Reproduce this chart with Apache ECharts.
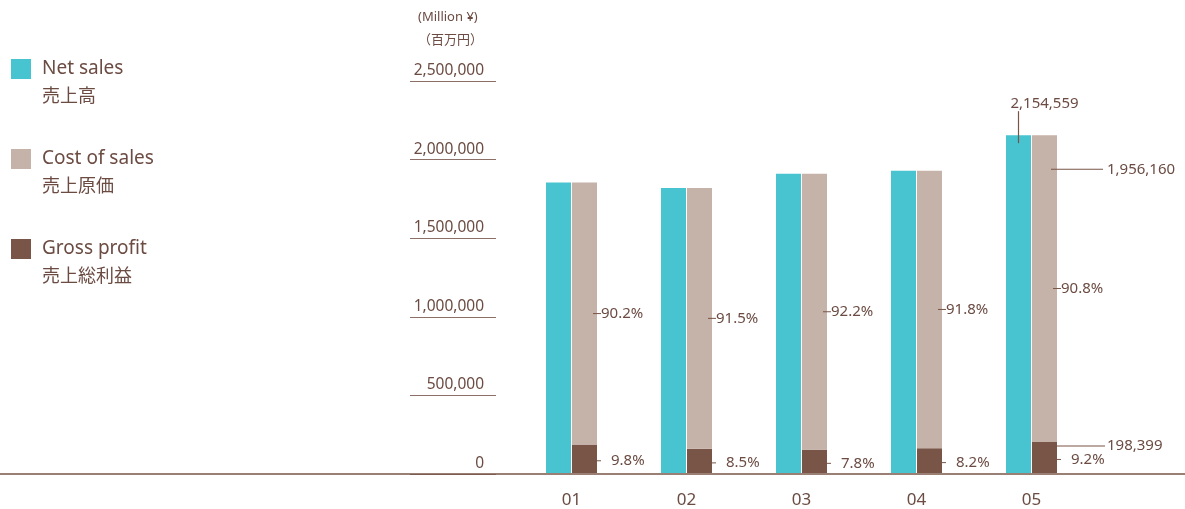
<!DOCTYPE html>
<html>
<head>
<meta charset="utf-8">
<script src="https://cdn.jsdelivr.net/npm/echarts@6/dist/echarts.min.js"></script>
<style>
html, body { margin: 0; padding: 0; background: #fff; }
#chart { width: 1185px; height: 509px; }
</style>
</head>
<body>
<div id="chart"></div>
<script>
const categories = ['01', '02', '03', '04', '05'];
const netSales = [1852000, 1818000, 1908000, 1928000, 2154559];
const costOfSales = [1670500, 1663500, 1759200, 1769900, 1956160];
const grossProfit = [181500, 154500, 148800, 158100, 198399];
const costRatio = ['90.2%', '91.5%', '92.2%', '91.8%', '90.8%'];
const profitRatio = ['9.8%', '8.5%', '7.8%', '8.2%', '9.2%'];
const seriesNames = ['Net sales', 'Cost of sales', 'Gross profit'];
const seriesNamesJa = ['売上高', '売上原価', '売上総利益'];
const yMax = 2500000;
const yStep = 500000;

const FONT = '"Noto Sans", "Noto Sans CJK JP", sans-serif';
const TEXT = '#6b4b42';
const BROWN = '#785547';
const TEAL = '#48c3d0';
const BEIGE = '#c5b2a8';

const fmt = v => v.toLocaleString('en-US');
const last = netSales.length - 1;

const dashRich = {
  d: { width: 8, height: 1, backgroundColor: BROWN },
  t: { color: TEXT, fontSize: 15, fontFamily: FONT, lineHeight: 16 },
  g: { color: TEXT, fontSize: 15, fontFamily: FONT, lineHeight: 16, padding: [0, 0, 0, 10] }
};

const chart = echarts.init(document.getElementById('chart'));

const option = {
  animation: false,
  textStyle: { fontFamily: FONT, color: TEXT },
  graphic: [{
    type: 'text',
    right: 702,
    top: 6,
    style: {
      text: '(Million ¥)\n（百万円）',
      align: 'right',
      fill: TEXT,
      font: '13px ' + FONT,
      lineHeight: 23
    }
  }],
  legend: {
    orient: 'vertical',
    left: 11,
    top: 36,
    padding: 0,
    itemWidth: 20,
    itemHeight: 20,
    itemGap: 20,
    icon: 'rect',
    selectedMode: false,
    data: seriesNames,
    formatter: name => '{sp| }\n{en|' + name + '}\n{ja|' + seriesNamesJa[seriesNames.indexOf(name)] + '}',
    textStyle: {
      padding: [0, 0, 0, 6],
      rich: {
        sp: { lineHeight: 34, fontSize: 10 },
        en: { fontSize: 19, lineHeight: 22, color: TEXT, fontFamily: FONT },
        ja: { fontSize: 18, lineHeight: 34, color: TEXT, fontFamily: FONT }
      }
    }
  },
  grid: [
    { left: 514, right: 96, top: 81, bottom: 35 },
    { left: 410, right: 689, top: 81, bottom: 35 },
    { left: 0, right: 0, top: 81, bottom: 35 }
  ],
  xAxis: [
    {
      type: 'category',
      gridIndex: 0,
      data: categories,
      axisLine: { show: false },
      axisTick: { show: false },
      axisLabel: { margin: 19, fontSize: 17, color: TEXT, fontFamily: FONT }
    },
    { type: 'value', gridIndex: 1, show: false },
    {
      type: 'value',
      gridIndex: 2,
      axisLine: { show: true, lineStyle: { color: BROWN, width: 1.5 } },
      axisTick: { show: false },
      axisLabel: { show: false },
      splitLine: { show: false }
    }
  ],
  yAxis: [
    { type: 'value', gridIndex: 0, min: 0, max: yMax, interval: yStep, show: false },
    {
      type: 'value',
      gridIndex: 1,
      position: 'right',
      min: 0,
      max: yMax,
      interval: yStep,
      axisLine: { show: false },
      axisTick: { show: false },
      axisLabel: {
        inside: true,
        margin: 12,
        verticalAlign: 'bottom',
        fontSize: 15.5,
        lineHeight: 15,
        padding: [0, 0, 3, 0],
        color: TEXT,
        fontFamily: FONT,
        formatter: v => fmt(v)
      },
      splitLine: { show: true, lineStyle: { color: '#8c7068', width: 1 } }
    },
    { type: 'value', gridIndex: 2, show: false }
  ],
  series: [
    {
      name: 'Net sales',
      type: 'bar',
      xAxisIndex: 0,
      yAxisIndex: 0,
      barWidth: 25,
      barGap: '4%',
      itemStyle: { color: TEAL },
      data: netSales,
      silent: true,
      label: {
        show: true,
        position: 'top',
        distance: 24,
        offset: [26, 0],
        color: TEXT,
        fontSize: 15,
        fontFamily: FONT,
        formatter: p => p.dataIndex === last ? fmt(p.value) : ''
      },
      markPoint: {
        silent: true,
        symbol: 'rect',
        symbolSize: [1.2, 32],
        itemStyle: { color: BROWN },
        label: { show: false },
        data: [{ coord: [last, netSales[last]], symbolOffset: [0, -8] }]
      }
    },
    {
      name: 'Gross profit',
      type: 'bar',
      stack: 'total',
      xAxisIndex: 0,
      yAxisIndex: 0,
      barWidth: 25,
      itemStyle: { color: BROWN },
      data: grossProfit,
      silent: true,
      label: {
        show: true,
        position: 'right',
        distance: -4,
        offset: [0, 2],
        formatter: p => '{d| }{g|' + profitRatio[p.dataIndex] + '}',
        rich: dashRich
      },
      markPoint: {
        silent: true,
        symbol: 'rect',
        symbolSize: [54, 1],
        itemStyle: { color: BROWN },
        label: {
          show: true,
          position: 'right',
          distance: 2,
          color: TEXT,
          fontSize: 15,
          fontFamily: FONT,
          formatter: () => fmt(grossProfit[last])
        },
        data: [{ coord: [last, grossProfit[last]], symbolOffset: [33.5, 4] }]
      }
    },
    {
      name: 'Cost of sales',
      type: 'bar',
      stack: 'total',
      xAxisIndex: 0,
      yAxisIndex: 0,
      barWidth: 25,
      itemStyle: { color: BEIGE },
      data: costOfSales,
      silent: true,
      label: {
        show: true,
        position: 'right',
        distance: -4,
        formatter: p => '{d| }{t|' + costRatio[p.dataIndex] + '}',
        rich: dashRich
      },
      markPoint: {
        silent: true,
        symbol: 'rect',
        symbolSize: [52, 1],
        itemStyle: { color: BROWN },
        label: {
          show: true,
          position: 'right',
          distance: 4,
          color: TEXT,
          fontSize: 15,
          fontFamily: FONT,
          formatter: () => fmt(costOfSales[last])
        },
        data: [{ coord: [last, costOfSales[last]], symbolOffset: [32.5, 3] }]
      }
    }
  ]
};

chart.setOption(option);
</script>
</body>
</html>
